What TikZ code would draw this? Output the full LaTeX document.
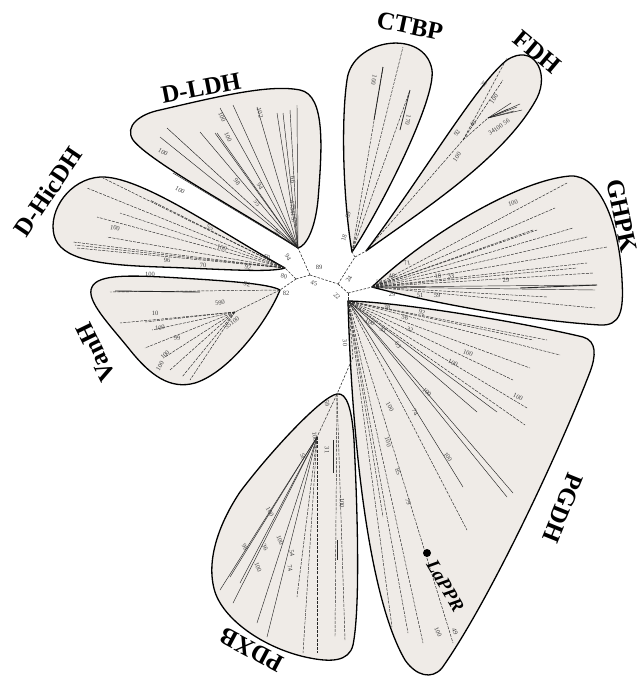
\documentclass[tikz,border=0pt]{standalone}
\usepackage{fontspec}
\setmainfont{Liberation Serif}
\definecolor{petalfill}{RGB}{239,235,231}
\begin{document}
\begin{tikzpicture}[x=1pt,y=-1pt,
  petal/.style={fill=petalfill,draw=black,line width=1.3pt,line join=round},
  br/.style={line width=0.45pt,black!85},
  bd/.style={br,dash pattern=on 3pt off 1.2pt},
  tr/.style={line width=0.6pt,black!80,dash pattern=on 2.5pt off 1.5pt},
  num/.style={font=\fontsize{6.5}{6.5}\selectfont,text=black!75,inner sep=0pt},
  clade/.style={font=\fontsize{25}{25}\selectfont\bfseries,inner sep=0pt}]
\path[use as bounding box] (0,0) rectangle (643,678);
% ---------- petals ----------
\path[petal] (352,252) .. controls (343,200) and (341,120) .. (347,80)
  .. controls (352,38) and (425,28) .. (432,70) .. controls (436,100) and (380,210) .. (352,252) -- cycle;
\path[petal] (366,251) .. controls (420,180) and (478,82) .. (507,60)
  .. controls (533,43) and (550,72) .. (537,98) .. controls (505,158) and (420,212) .. (366,251) -- cycle;
\path[petal] (372,287) .. controls (430,232) and (520,180) .. (570,176)
  .. controls (602,174) and (620,230) .. (622,280) .. controls (624,312) and (620,326) .. (600,325)
  .. controls (520,320) and (420,300) .. (372,287) -- cycle;
\path[petal] (348,301) .. controls (400,302) and (520,322) .. (583,337)
  .. controls (597,341) and (596,356) .. (590,372) .. controls (560,450) and (490,600) .. (442,668)
  .. controls (432,680) and (416,676) .. (405,660) .. controls (370,600) and (352,450) .. (348,301) -- cycle;
\path[petal] (337,394) .. controls (347,392) and (352,410) .. (354,440)
  .. controls (358,520) and (360,610) .. (353,645) .. controls (349,662) and (330,662) .. (310,658)
  .. controls (268,650) and (225,622) .. (215,592) .. controls (205,560) and (220,522) .. (240,492)
  .. controls (270,452) and (322,396) .. (337,394) -- cycle;
\path[petal] (280,290) .. controls (268,320) and (230,372) .. (195,383)
  .. controls (170,390) and (150,375) .. (130,350) .. controls (110,325) and (85,300) .. (92,287)
  .. controls (98,274) and (130,275) .. (180,278) .. controls (230,281) and (270,284) .. (280,290) -- cycle;
\path[petal] (285,268) .. controls (220,232) and (140,175) .. (100,177)
  .. controls (70,179) and (48,210) .. (54,235) .. controls (60,260) and (100,265) .. (160,267)
  .. controls (220,269) and (270,273) .. (285,268) -- cycle;
\path[petal] (298,248) .. controls (240,210) and (150,162) .. (133,140)
  .. controls (124,126) and (140,114) .. (160,110) .. controls (220,96) and (270,84) .. (300,90)
  .. controls (326,95) and (322,150) .. (318,200) .. controls (315,230) and (306,246) .. (298,248) -- cycle;
% ---------- tip coordinates ----------
\coordinate (tc) at (352,252); \coordinate (tf) at (366,251);
\coordinate (tg) at (372,287); \coordinate (tp) at (348,301);
\coordinate (td) at (337,394); \coordinate (tv) at (280,290);
\coordinate (th) at (285,268); \coordinate (tl) at (298,248);
\coordinate (A) at (310,275); \coordinate (B) at (338,284);
\coordinate (H) at (348,293); \coordinate (J1) at (296,279);
\coordinate (J2) at (355,257); \coordinate (J4) at (353,357);
% ---------- central tree ----------
\draw[tr] (A) -- (tl); \draw[tr] (A) -- (J1); \draw[tr] (J1) -- (th); \draw[tr] (J1) -- (tv);
\draw[tr] (A) -- (B); \draw[tr] (B) -- (J2); \draw[tr] (J2) -- (tc); \draw[tr] (J2) -- (tf);
\draw[tr] (B) -- (H); \draw[tr] (H) -- (tg); \draw[tr] (H) -- (tp);
\draw[tr] (tp) -- (J4); \draw[tr] (J4) -- (td);
% ---------- CTBP branches ----------
\draw[bd] (tc) -- (403,47);
\draw[bd] (tc) -- (383,67); \draw[br,line width=0.8pt] (374,120) -- (383,67);
\draw[bd] (tc) -- (410,90); \draw[br,line width=0.8pt] (400,130) -- (410,90);
% ---------- FDH branches ----------
\coordinate (f1) at (463,140); \coordinate (f2) at (488,118);
\draw[bd] (tf) -- (f1); \draw[bd] (f1) -- (507,58); \draw[bd] (f1) -- (503,80);
\draw[bd] (f1) -- (f2);
\foreach \ex/\ey in {517/107,520/104,514/111,511/103,522/110,508/109}
  \draw[br] (f2) -- (\ex,\ey);
% ---------- GHPK branches ----------
\foreach \ex/\ey in {567/183,555/208,537/230,573/228,587/237,607/247,587/263,577/268,593/273,547/297,595/308,533/230}
  \draw[bd] (tg) -- (\ex,\ey);
\draw[br] (tg) -- (597,285); \draw[br,line width=0.9pt] (520,288) -- (597,285);
\draw[br] (tg) -- (595,290);
% ---------- PGDH branches ----------
\foreach \ex/\ey in {560/355,547/340,533/340,530/368,513/380,527/408,525/425}
  \draw[bd] (tp) -- (\ex,\ey);
\foreach \ex/\ey in {477/412,497/412,513/493,507/497,463/487}
  \draw[br] (tp) -- (\ex,\ey);
\draw[bd] (tp) -- (467,530);
\draw[bd] (tp) -- (453,643);
\draw[bd] (tp) -- (423,643);
\draw[bd] (tp) -- (408,633);
\draw[bd] (tp) -- (392,627);
\draw[bd] (tp) -- (383,517);
% ---------- PDXB branches ----------
\coordinate (d1) at (317,437);
\draw[bd] (td) -- (d1);
\foreach \ex/\ey in {220/590,233/603,257/623,267/637,230/577,240/583}
  \draw[br] (d1) -- (\ex,\ey);
\foreach \ex/\ey in {297/597,303/653,317/653}
  \draw[bd] (d1) -- (\ex,\ey);
\draw[bd] (td) -- (335,637); \draw[bd] (td) -- (345,640);
\draw[br,line width=0.8pt] (333,440) -- (333,473);
\draw[br,line width=0.8pt] (337,540) -- (337,560);
% ---------- VanH branches ----------
\coordinate (v1) at (235,312);
\draw[bd] (tv) -- (110,292); \draw[br,line width=0.9pt] (115,291) -- (200,292);
\draw[bd] (tv) -- (v1);
\foreach \ex/\ey in {120/323,145/322,152/330,145/348,165/357,170/370,182/377,190/380}
  \draw[bd] (v1) -- (\ex,\ey);
% ---------- D-HicDH branches ----------
\foreach \ex/\ey in {103/178,87/188,120/213,97/217,107/237,73/242,75/245,77/248,150/200}
  \draw[bd] (th) -- (\ex,\ey);
% ---------- D-LDH branches ----------
\foreach \ex/\ey in {297/105,290/110,283/113,277/113,257/107,233/105,220/108,215/133,160/137,167/128,200/132,217/133,173/173}
  \draw[br] (tl) -- (\ex,\ey);
% ---------- bootstrap numbers ----------
\foreach \x/\y/\r/\t [count=\i] in {
  319/267/0/89, 314/283/-10/45, 284/276/-15/80, 286/293/0/82, 349/279/60/24,
  337/296/-45/22, 379/282/0/28, 344/238/75/18, 348/215/80/69, 288/257/-60/94,
  345/343/-85/30,
  374/80/-100/100, 408/120/-100/170,
  457/157/55/100, 457/133/55/92, 473/124/55/46, 484/84/55/25, 494/99/55/100, 499/127/35/34100 56,
  513/203/15/100, 407/263/15/71, 392/276/10/48, 438/276/10/18, 451/276/10/33, 506/280/5/29,
  392/294/0/29, 420/295/0/51, 437/295/0/59,
  387/307/-10/38, 422/312/-15/92, 405/318/-20/56, 410/330/-25/32, 370/322/-30/100, 383/330/-30/33,
  398/345/-55/63, 468/353/-20/100, 453/363/-25/100, 518/397/-25/100, 427/392/-45/100,
  390/407/-60/100, 415/412/-60/74, 448/457/-55/100, 388/442/-75/100, 398/472/-70/85,
  408/502/-70/79, 438/632/-65/100, 455/632/-65/49,
  327/403/-80/59, 315/437/-80/100, 303/457/-70/56, 270/512/-60/100, 245/547/-60/98,
  265/547/-60/36, 258/567/-70/100, 280/540/-70/100, 290/568/-80/74, 292/553/-80/54,
  327/450/-90/31, 342/503/-90/100,
  150/274/0/100, 247/284/-10/92, 155/313/0/10, 160/328/10/100, 220/303/10/590,
  232/323/35/35100, 177/338/10/99, 165/355/45/100, 160/366/60/100,
  115/228/-10/100, 210/228/-20/55, 167/260/0/96, 203/265/0/70, 248/267/-15/92,
  222/248/-15/100, 267/257/-30/60,
  163/152/-30/100, 180/190/-30/100, 237/182/-50/98, 260/186/-60/94, 257/203/-55/55,
  228/137/-65/100, 222/117/-65/100, 260/113/-75/102, 293/180/-85/66, 293/212/-85/4734157,
  277/233/-50/58}
  \node[num,rotate=\r] (bs\i) at (\x,\y) {\t};
% ---------- clade labels ----------
\node[clade,rotate=-12] (lctbp) at (410,26) {CTBP};
\node[clade,rotate=-40] (lfdh) at (537,52) {FDH};
\node[clade,rotate=-78] (lghpk) at (622,216) {GHPK};
\node[clade,rotate=-112] (lpgdh) at (563,508) {PGDH};
\node[clade,rotate=152] (lpdxb) at (252,650) {PDXB};
\node[clade,rotate=116] (lvanh) at (96,352) {VanH};
\node[clade,rotate=56] (lhic) at (48,192) {D-HicDH};
\node[clade,rotate=11] (lldh) at (201,88) {D-LDH};
\node[circle,fill=black,inner sep=0pt,minimum size=8pt] (dot) at (427,553) {};
\node[font=\fontsize{19}{19}\selectfont\bfseries\itshape,inner sep=0pt,rotate=-60,anchor=west] (lappr) at (431,561) {LaPPR};
\end{tikzpicture}
\end{document}
